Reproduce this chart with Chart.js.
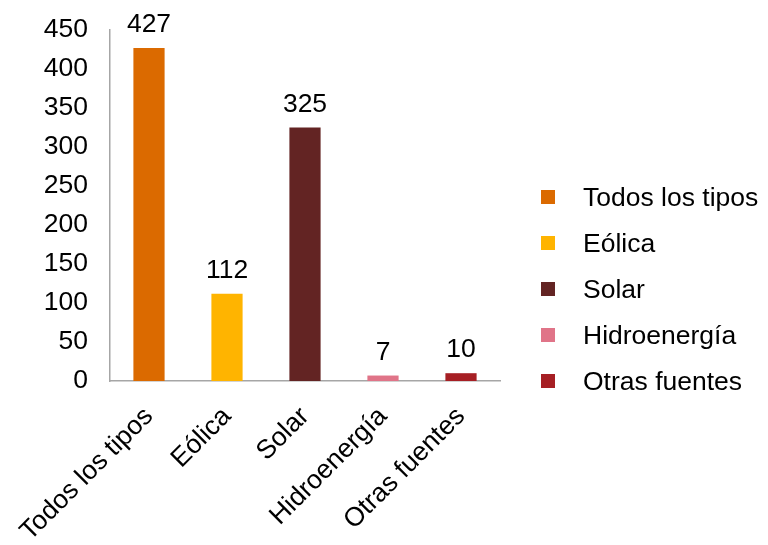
<!DOCTYPE html>
<html>
<head>
<meta charset="utf-8">
<script src="https://cdn.jsdelivr.net/npm/chart.js@4.4.0/dist/chart.umd.min.js"></script>
<style>
  html, body { margin: 0; padding: 0; background: #fff; }
  #wrap { position: relative; width: 768px; height: 545px; }
  #legend { position: absolute; left: 541px; top: 174px; font-family: "Liberation Sans", Arial, sans-serif; font-size: 26.5px; color: #000; }
  #legend div { height: 46px; display: flex; align-items: center; }
  #legend span.box { width: 14px; height: 14px; margin-right: 28px; display: inline-block; }
</style>
</head>
<body>
<div id="wrap">
  <canvas id="chart" width="768" height="545"></canvas>
  <div id="legend"></div>
</div>
<script>
// Data
const categories = ['Todos los tipos', 'Eólica', 'Solar', 'Hidroenergía', 'Otras fuentes'];
const values = [427, 112, 325, 7, 10];
const colors = ['#DB6A00', '#FFB400', '#632423', '#E07488', '#A61F24'];
const yTicks = [0, 50, 100, 150, 200, 250, 300, 350, 400, 450];

const FONT = '"Liberation Sans", Arial, sans-serif';
const SIZE = 26.5;

// Value labels above each bar
const valueLabels = {
    id: 'valueLabels',
    afterDatasetsDraw(chart) {
        const ctx = chart.ctx;
        const meta = chart.getDatasetMeta(0);
        ctx.save();
        ctx.font = SIZE + 'px ' + FONT;
        ctx.fillStyle = '#000';
        ctx.textAlign = 'center';
        ctx.textBaseline = 'alphabetic';
        meta.data.forEach((bar, i) => {
            ctx.fillText(values[i], bar.x, bar.y - 16);
        });
        ctx.restore();
    }
};

// HTML legend
const legendEl = document.getElementById('legend');
categories.forEach((c, i) => {
    const row = document.createElement('div');
    const box = document.createElement('span');
    box.className = 'box';
    box.style.background = colors[i];
    row.appendChild(box);
    row.appendChild(document.createTextNode(c));
    legendEl.appendChild(row);
});

new Chart(document.getElementById('chart'), {
    type: 'bar',
    data: {
        labels: categories,
        datasets: [{
            data: values,
            backgroundColor: colors,
            barPercentage: 0.8,
            categoryPercentage: 0.5
        }]
    },
    options: {
        responsive: false,
        animation: false,
        layout: { padding: { left: 0, right: 268, top: 30, bottom: 0 } },
        plugins: {
            legend: { display: false },
            tooltip: { enabled: false }
        },
        scales: {
            y: {
                min: 0,
                max: 450,
                afterBuildTicks: s => { s.ticks = yTicks.map(v => ({ value: v })); },
                afterFit: s => { s.width = 110; s.paddingTop = 0; s.paddingBottom = 0; },
                grid: { display: false, drawTicks: false },
                border: { color: '#a6a6a6', width: 1.5 },
                ticks: { color: '#000', padding: 22, font: { family: FONT, size: SIZE } }
            },
            x: {
                afterFit: s => { s.height = 164; s.paddingLeft = 0; s.paddingRight = 0; },
                grid: { display: false, drawTicks: false },
                border: { color: '#a6a6a6', width: 1.5 },
                ticks: { color: '#000', padding: 20, minRotation: 45, maxRotation: 45, font: { family: FONT, size: SIZE } }
            }
        }
    },
    plugins: [valueLabels]
});
</script>
</body>
</html>
